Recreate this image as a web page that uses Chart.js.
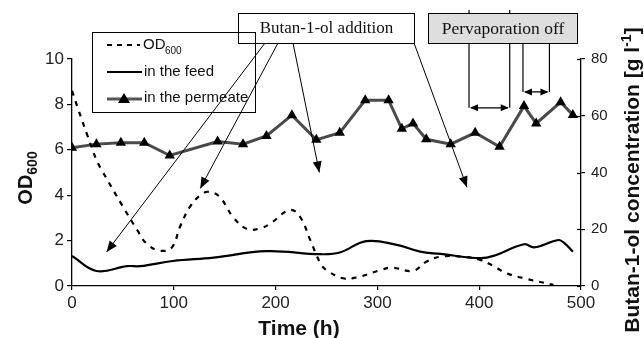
<!DOCTYPE html>
<html>
<head>
<meta charset="utf-8">
<script src="https://cdn.jsdelivr.net/npm/chart.js@4.4.1/dist/chart.umd.min.js"></script>
<style>
  html, body { margin: 0; padding: 0; background: #fff; }
  canvas { display: block; }
</style>
</head>
<body>
<canvas id="c" width="644" height="338"></canvas>
<script>
// OD600 (left axis)
const timeOD = [0, 6, 15, 24, 28, 50, 64, 73, 86, 98, 106, 116, 126, 134, 145, 158, 172, 185, 195, 214, 224, 234, 244, 250, 266, 280, 303, 314, 335, 348, 362, 384, 401, 414, 427, 447, 473];
const od600 = [8.6, 7.8, 6.65, 5.55, 5.2, 3.5, 2.47, 1.88, 1.56, 1.69, 2.6, 3.5, 4.0, 4.15, 3.93, 3.05, 2.51, 2.54, 2.76, 3.35, 3.05, 2.03, 1.0, 0.7, 0.34, 0.38, 0.7, 0.81, 0.67, 1.07, 1.29, 1.29, 1.15, 0.88, 0.56, 0.31, 0.05];

// butan-1-ol in the feed, g/l (right axis)
const timeFeed = [0, 24, 54, 67, 99, 139, 191, 244, 263, 289, 319, 342, 362, 401, 414, 444, 454, 478, 484, 492];
const feedConc = [10.6, 5.3, 7.0, 7.0, 8.8, 10.0, 12.3, 11.2, 11.8, 15.8, 14.5, 12.1, 11.3, 9.8, 10.6, 14.7, 13.6, 16.2, 15.0, 12.1];

// butan-1-ol in the permeate, g/l (right axis)
const timePerm = [0, 24, 48, 71, 96, 143, 168, 191, 216, 240, 263, 288, 311, 324, 335, 348, 372, 396, 420, 444, 456, 480, 492];
const permConc = [48.7, 50.0, 50.5, 50.5, 46.0, 50.9, 50.0, 52.9, 60.2, 51.5, 54.0, 65.5, 65.5, 55.4, 57.3, 51.7, 50.0, 54.0, 49.1, 63.4, 57.3, 64.8, 60.3];

// annotation targets (time h, OD) and pervaporation-off intervals
const additionTargets = [[34, 1.5], [126, 4.3], [243, 5.0], [388, 4.35]];
const pervOff = [[390, 430, 7.85], [443, 469, 8.55]];

Chart.defaults.font.family = '"Liberation Sans", Arial, sans-serif';
Chart.defaults.color = '#222';

const xy = (xs, ys) => xs.map((x, i) => ({ x: x, y: ys[i] }));

function arrowHead(ctx, x1, y1, x2, y2, len, half) {
  const a = Math.atan2(y2 - y1, x2 - x1);
  ctx.beginPath();
  ctx.moveTo(x2, y2);
  ctx.lineTo(x2 - len * Math.cos(a) + half * Math.sin(a), y2 - len * Math.sin(a) - half * Math.cos(a));
  ctx.lineTo(x2 - len * Math.cos(a) - half * Math.sin(a), y2 - len * Math.sin(a) + half * Math.cos(a));
  ctx.closePath();
  ctx.fill();
}

function arrow(ctx, x1, y1, x2, y2) {
  ctx.beginPath();
  ctx.moveTo(x1, y1);
  ctx.lineTo(x2, y2);
  ctx.stroke();
  arrowHead(ctx, x1, y1, x2, y2, 11, 4.5);
}

const decor = {
  id: 'decor',
  afterDatasetsDraw(chart) {
    const ctx = chart.ctx;
    const sx = chart.scales.x, sy = chart.scales.y, s2 = chart.scales.y2;
    ctx.save();
    ctx.fillStyle = '#000';
    ctx.strokeStyle = '#000';

    // inner half of right-axis ticks
    ctx.lineWidth = 1.2;
    s2.ticks.forEach(t => {
      const y = Math.round(s2.getPixelForValue(t.value)) + 0.5;
      ctx.beginPath(); ctx.moveTo(577, y); ctx.lineTo(581, y); ctx.stroke();
    });

    // butan-1-ol addition arrows
    ctx.lineWidth = 1;
    const starts = [265, 278, 293, 414];
    additionTargets.forEach((p, i) => {
      arrow(ctx, starts[i], 43, sx.getPixelForValue(p[0]), sy.getPixelForValue(p[1]));
    });

    // pervaporation off brackets (first pair pokes out above the box)
    ctx.lineWidth = 1.2;
    pervOff.forEach((p, i) => {
      const xa = sx.getPixelForValue(p[0]), xb = sx.getPixelForValue(p[1]);
      const y = sy.getPixelForValue(p[2]);
      const top = i === 0 ? 10 : 43;
      ctx.beginPath();
      ctx.moveTo(xa, top); ctx.lineTo(xa, y);
      ctx.moveTo(xb, top); ctx.lineTo(xb, y);
      ctx.moveTo(xa + 2, y); ctx.lineTo(xb - 2, y);
      ctx.stroke();
      arrowHead(ctx, xb, y, xa + 1, y, 8, 3.5);
      arrowHead(ctx, xa, y, xb - 1, y, 8, 3.5);
    });

    // boxes
    ctx.lineWidth = 1;
    ctx.fillStyle = '#fff';
    ctx.fillRect(238.5, 13.5, 176, 30);
    ctx.strokeRect(238.5, 13.5, 176, 30);
    ctx.fillStyle = '#dedede';
    ctx.fillRect(428.5, 13.5, 149, 30);
    ctx.strokeRect(428.5, 13.5, 149, 30);
    ctx.fillStyle = '#111';
    ctx.font = '17px "Liberation Serif", "Times New Roman", serif';
    ctx.textAlign = 'center';
    ctx.textBaseline = 'middle';
    ctx.fillText('Butan-1-ol addition', 326.5, 29);
    ctx.font = '17.5px "Liberation Serif", "Times New Roman", serif';
    ctx.fillText('Pervaporation off', 503, 29);

    // legend
    ctx.strokeStyle = '#000';
    ctx.strokeRect(92.5, 32.5, 163, 80);
    ctx.textAlign = 'left';
    ctx.font = '15px "Liberation Sans", Arial, sans-serif';
    ctx.lineWidth = 2;
    ctx.setLineDash([5, 5]);
    ctx.beginPath(); ctx.moveTo(107, 45); ctx.lineTo(140, 45); ctx.stroke();
    ctx.setLineDash([]);
    ctx.fillText('OD', 143, 45);
    ctx.font = '10px "Liberation Sans", Arial, sans-serif';
    ctx.fillText('600', 143 + 22, 51);
    ctx.font = '15px "Liberation Sans", Arial, sans-serif';
    ctx.beginPath(); ctx.moveTo(107, 72); ctx.lineTo(142, 72); ctx.stroke();
    ctx.fillText('in the feed', 144, 72);
    ctx.strokeStyle = '#555';
    ctx.lineWidth = 3;
    ctx.beginPath(); ctx.moveTo(107, 99); ctx.lineTo(142, 99); ctx.stroke();
    ctx.fillStyle = '#000';
    ctx.beginPath(); ctx.moveTo(124, 93); ctx.lineTo(130, 103); ctx.lineTo(118, 103); ctx.closePath(); ctx.fill();
    ctx.fillStyle = '#111';
    ctx.fillText('in the permeate', 144, 98);
    ctx.restore();
  },
  afterDraw(chart) {
    const ctx = chart.ctx;
    ctx.save();
    ctx.fillStyle = '#111';
    ctx.textBaseline = 'alphabetic';
    // x title
    ctx.font = 'bold 21px "Liberation Sans", Arial, sans-serif';
    ctx.textAlign = 'center';
    ctx.fillText('Time (h)', 299, 335);

    // left title OD600
    ctx.save();
    ctx.translate(32, 178);
    ctx.rotate(-Math.PI / 2);
    ctx.textAlign = 'left';
    ctx.font = 'bold 20px "Liberation Sans", Arial, sans-serif';
    const wOD = ctx.measureText('OD').width;
    ctx.font = 'bold 14px "Liberation Sans", Arial, sans-serif';
    const w600 = ctx.measureText('600').width;
    const start = -(wOD + w600) / 2;
    ctx.font = 'bold 20px "Liberation Sans", Arial, sans-serif';
    ctx.fillText('OD', start, 0);
    ctx.font = 'bold 14px "Liberation Sans", Arial, sans-serif';
    ctx.fillText('600', start + wOD, 5);
    ctx.restore();

    // right title
    ctx.save();
    ctx.translate(639, 180);
    ctx.rotate(-Math.PI / 2);
    ctx.textAlign = 'left';
    const main = 'Butan-1-ol concentration [g l';
    ctx.font = 'bold 21px "Liberation Sans", Arial, sans-serif';
    const wMain = ctx.measureText(main).width;
    const wEnd = ctx.measureText(']').width;
    ctx.font = 'bold 14px "Liberation Sans", Arial, sans-serif';
    const wSup = ctx.measureText('-1').width;
    const s0 = -(wMain + wSup + wEnd) / 2;
    ctx.font = 'bold 21px "Liberation Sans", Arial, sans-serif';
    ctx.fillText(main, s0, 0);
    ctx.fillText(']', s0 + wMain + wSup, 0);
    ctx.font = 'bold 14px "Liberation Sans", Arial, sans-serif';
    ctx.fillText('-1', s0 + wMain, -8);
    ctx.restore();
    ctx.restore();
  }
};

const tickGrid = len => ({ display: true, drawOnChartArea: false, drawTicks: true, tickLength: len, color: '#000', lineWidth: 1.2 });
const axisBorder = { display: true, color: '#000', width: 1.3 };

new Chart(document.getElementById('c'), {
  type: 'line',
  data: {
    datasets: [
      {
        label: 'OD600',
        data: xy(timeOD, od600),
        yAxisID: 'y',
        borderColor: '#000',
        borderWidth: 2.2,
        borderDash: [5, 6],
        pointRadius: 0,
        tension: 0.4,
        fill: false
      },
      {
        label: 'in the feed',
        data: xy(timeFeed, feedConc),
        yAxisID: 'y2',
        borderColor: '#000',
        borderWidth: 2.2,
        pointRadius: 0,
        tension: 0.4,
        fill: false
      },
      {
        label: 'in the permeate',
        data: xy(timePerm, permConc),
        yAxisID: 'y2',
        borderColor: '#4a4a4a',
        borderWidth: 3,
        pointStyle: 'triangle',
        pointRadius: 6,
        pointBackgroundColor: '#000',
        pointBorderColor: '#000',
        pointBorderWidth: 0,
        tension: 0,
        fill: false
      }
    ]
  },
  options: {
    responsive: false,
    animation: false,
    devicePixelRatio: 1,
    layout: { padding: { top: 59, left: 0, right: 0, bottom: 0 } },
    plugins: { legend: { display: false }, tooltip: { enabled: false } },
    scales: {
      x: {
        type: 'linear', min: 0, max: 500,
        ticks: { stepSize: 100, font: { size: 17 }, padding: 3, maxRotation: 0 },
        grid: tickGrid(4),
        border: axisBorder,
        afterFit(s) { s.height = 52; s.paddingLeft = 0; s.paddingRight = 0; }
      },
      y: {
        position: 'left', min: 0, max: 10,
        ticks: { stepSize: 2, font: { size: 17 }, padding: 3 },
        grid: tickGrid(5),
        border: axisBorder,
        afterFit(s) { s.width = 72; s.paddingTop = 0; s.paddingBottom = 0; }
      },
      y2: {
        position: 'right', min: 0, max: 80,
        ticks: { stepSize: 20, font: { size: 15 }, padding: 6 },
        grid: tickGrid(4),
        border: axisBorder,
        afterFit(s) { s.width = 63; s.paddingTop = 0; s.paddingBottom = 0; }
      }
    }
  },
  plugins: [decor]
});
</script>
</body>
</html>
